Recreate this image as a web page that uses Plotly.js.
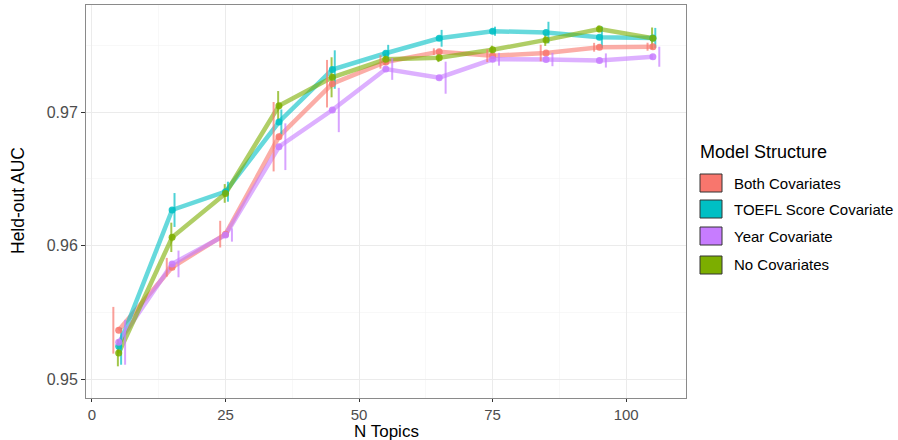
<!DOCTYPE html>
<html>
<head>
<meta charset="utf-8">
<script src="https://cdn.plot.ly/plotly-3.0.1.min.js"></script>
<style>html,body{margin:0;padding:0;background:#fff;}#chart{width:898px;height:440px;}</style>
</head>
<body>
<div id="chart"></div>
<script>
// ---- data ----
const topics = [5, 15, 25, 35, 45, 55, 65, 75, 85, 95, 105];
const seriesNames = ["Both Covariates", "TOEFL Score Covariate", "Year Covariate", "No Covariates"];

const bothMean  = [0.95365, 0.95837, 0.96085, 0.96815, 0.97212, 0.97375, 0.97452, 0.97422, 0.97442, 0.97485, 0.97489];
const bothSE    = [0.00175, 0.00070, 0.00100, 0.00260, 0.00178, 0.00050, 0.00025, 0.00048, 0.00062, 0.00033, 0.00030];

const toeflMean = [0.95245, 0.96266, 0.96403, 0.96925, 0.97318, 0.97440, 0.97552, 0.97605, 0.97595, 0.97560, 0.97555];
const toeflSE   = [0.00138, 0.00127, 0.00075, 0.00094, 0.00144, 0.00063, 0.00063, 0.00034, 0.00081, 0.00080, 0.00075];

const yearMean  = [0.95275, 0.95862, 0.96079, 0.96740, 0.97015, 0.97322, 0.97257, 0.97395, 0.97393, 0.97386, 0.97414];
const yearSE    = [0.00168, 0.00100, 0.00050, 0.00175, 0.00166, 0.00081, 0.00120, 0.00048, 0.00050, 0.00053, 0.00075];

const noMean    = [0.95195, 0.96061, 0.96390, 0.97047, 0.97260, 0.97395, 0.97407, 0.97466, 0.97540, 0.97622, 0.97552];
const noSE      = [0.00100, 0.00110, 0.00070, 0.00110, 0.00150, 0.00040, 0.00033, 0.00031, 0.00045, 0.00025, 0.00081];

const xTitle = "N Topics";
const yTitle = "Held-out AUC";
const legendTitle = "Model Structure";

// ---- styling ----
const colors = ["#F8766D", "#00BFC4", "#C77CFF", "#7CAE00"];
const means = [bothMean, toeflMean, yearMean, noMean];
const ses = [bothSE, toeflSE, yearSE, noSE];
const dodge = [-1.0, 0.45, 1.2, -0.15];
const FONT = "Liberation Sans, Arial, sans-serif";

function rgba(hex, a) {
  const r = parseInt(hex.slice(1,3),16), g = parseInt(hex.slice(3,5),16), b = parseInt(hex.slice(5,7),16);
  return `rgba(${r},${g},${b},${a})`;
}

const traces = [];
for (let i = 0; i < 4; i++) {
  traces.push({
    type: "scatter", mode: "lines", x: topics, y: means[i],
    line: {color: rgba(colors[i], 0.6), width: 4.5},
    showlegend: false, hoverinfo: "skip"
  });
}
for (let i = 0; i < 4; i++) {
  traces.push({
    type: "scatter", mode: "markers",
    x: topics.map(t => t + dodge[i]), y: means[i],
    marker: {size: 1, opacity: 0},
    error_y: {type: "data", array: ses[i], visible: true, width: 0, thickness: 2, color: rgba(colors[i], 0.7)},
    showlegend: false, hoverinfo: "skip"
  });
}
for (let i = 0; i < 4; i++) {
  traces.push({
    type: "scatter", mode: "markers", x: topics, y: means[i],
    marker: {color: rgba(colors[i], 0.85), size: 7},
    showlegend: false, hoverinfo: "skip"
  });
}

// ---- manual legend and axis titles (pixel helpers) ----
const L = 86, R = 686, T = 5, B = 398;
const px = x => (x - L) / (R - L);
const py = y => (B - y) / (B - T);

const shapes = [];
const annotations = [];
annotations.push({
  xref: "paper", yref: "paper", x: px(698), y: py(152), xanchor: "left", yanchor: "middle",
  text: legendTitle, showarrow: false, font: {family: FONT, size: 18, color: "#000"}
});
const rowY = [183, 209, 236, 265];
for (let i = 0; i < 4; i++) {
  shapes.push({
    type: "rect", xref: "paper", yref: "paper",
    x0: px(700), x1: px(722), y0: py(rowY[i] + 9), y1: py(rowY[i] - 9),
    fillcolor: colors[i], line: {color: "#333333", width: 1}
  });
  annotations.push({
    xref: "paper", yref: "paper", x: px(732), y: py(rowY[i]), xanchor: "left", yanchor: "middle",
    text: seriesNames[i], showarrow: false, font: {family: FONT, size: 15, color: "#000"}
  });
}
annotations.push({
  xref: "paper", yref: "paper", x: px(386), y: py(431), xanchor: "center", yanchor: "middle",
  text: xTitle, showarrow: false, font: {family: FONT, size: 17, color: "#000"}
});
annotations.push({
  xref: "paper", yref: "paper", x: px(18), y: py(201), xanchor: "center", yanchor: "middle",
  text: yTitle, textangle: -90, showarrow: false, font: {family: FONT, size: 17.5, color: "#000"}
});

const layout = {
  width: 898, height: 440,
  margin: {l: L, r: 898 - R, t: T, b: 440 - B, pad: 0},
  paper_bgcolor: "#ffffff", plot_bgcolor: "#ffffff",
  font: {family: FONT},
  showlegend: false,
  hovermode: false,
  xaxis: {
    range: [-1.12, 111.2], tickvals: [0, 25, 50, 75, 100], ticktext: ["0", "25", "50", "75", "100"],
    ticks: "outside", ticklen: 3, tickcolor: "#333333", tickwidth: 1,
    tickfont: {size: 15, color: "#4D4D4D"},
    showgrid: true, gridcolor: "#EBEBEB", gridwidth: 1,
    minor: {tick0: 0, dtick: 12.5, showgrid: true, gridcolor: "#F3F3F3", gridwidth: 0.6, ticklen: 0},
    showline: true, mirror: true, linecolor: "#8a8a8a", linewidth: 1,
    zeroline: false
  },
  yaxis: {
    range: [0.948577, 0.978015], tickvals: [0.95, 0.96, 0.97], ticktext: ["0.95", "0.96", "0.97"],
    ticks: "outside", ticklen: 4, tickcolor: "#333333", tickwidth: 1,
    tickfont: {size: 16, color: "#4D4D4D"},
    showgrid: true, gridcolor: "#EBEBEB", gridwidth: 1,
    minor: {tick0: 0.95, dtick: 0.005, showgrid: true, gridcolor: "#F3F3F3", gridwidth: 0.6, ticklen: 0},
    showline: true, mirror: true, linecolor: "#8a8a8a", linewidth: 1,
    zeroline: false
  },
  shapes: shapes,
  annotations: annotations
};

Plotly.newPlot("chart", traces, layout, {displayModeBar: false, staticPlot: true});
</script>
</body>
</html>
